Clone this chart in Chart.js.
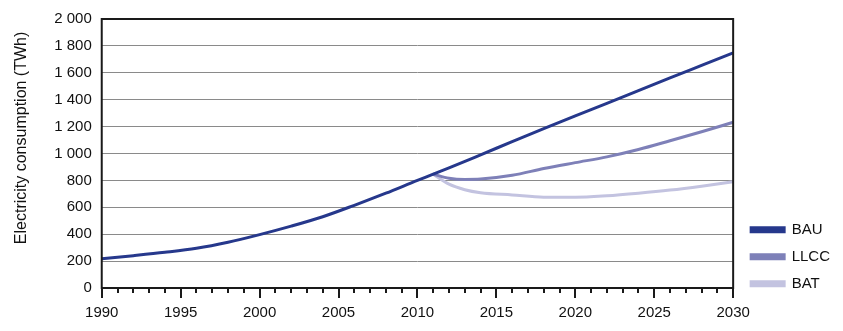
<!DOCTYPE html>
<html>
<head>
<meta charset="utf-8">
<script src="https://cdn.jsdelivr.net/npm/chart.js@4"></script>
<style>
  html, body { margin: 0; padding: 0; background: #fff; }
  #wrap { width: 843px; height: 331px; }
</style>
</head>
<body>
<div id="wrap"><canvas id="elecChart" width="843" height="331"></canvas></div>
<script>
// values (TWh)
const bauYears = [1990, 1992, 1994, 1996, 1998, 2000, 2002, 2004, 2006, 2008, 2010, 2011, 2012, 2014, 2016, 2018, 2020, 2022, 2024, 2026, 2028, 2030];
const bauValues = [217, 240, 265, 295, 340, 397, 460, 530, 615, 705, 800, 846, 893, 990, 1088, 1185, 1280, 1372, 1467, 1562, 1655, 1748];

const scenYears = [2011, 2012, 2013, 2014, 2016, 2018, 2020, 2022, 2024, 2026, 2028, 2030];
const llccValues = [846, 816, 807, 810, 838, 888, 932, 975, 1030, 1095, 1162, 1232];
const batValues = [846, 772, 731, 709, 692, 675, 675, 686, 705, 728, 757, 790];

const yTicks = [0, 200, 400, 600, 800, 1000, 1200, 1400, 1600, 1800, 2000];

const toPoints = (xs, ys) => xs.map((x, i) => ({ x: x, y: ys[i] }));

// box around plot + yearly tick marks under the x axis
const frame = {
    id: 'frame',
    afterLayout(chart) {
        // nudge legend a little right of the plot
        chart.legend.left += 6;
        chart.legend.right += 6;
    },
    afterDraw(chart) {
        const ctx = chart.ctx;
        const a = chart.chartArea;
        const xs = chart.scales.x;
        ctx.save();
        ctx.strokeStyle = '#1a1a1a';
        ctx.lineWidth = 2;
        ctx.strokeRect(a.left, a.top, a.right - a.left, a.bottom - a.top);
        ctx.beginPath();
        for (let yr = 1990; yr <= 2030; yr++) {
            const px = Math.round(xs.getPixelForValue(yr));
            const len = yr % 5 === 0 ? 10 : 5;
            ctx.moveTo(px, a.bottom);
            ctx.lineTo(px, a.bottom + len);
        }
        ctx.stroke();
        ctx.restore();
    }
};

const ctx = document.getElementById('elecChart').getContext('2d');
new Chart(ctx, {
    type: 'line',
    data: {
        datasets: [
            { label: 'BAU', data: toPoints(bauYears, bauValues), borderColor: '#26388c', backgroundColor: '#26388c' },
            { label: 'LLCC', data: toPoints(scenYears, llccValues), borderColor: '#7e80b8', backgroundColor: '#7e80b8' },
            { label: 'BAT', data: toPoints(scenYears, batValues), borderColor: '#c3c3e0', backgroundColor: '#c3c3e0' }
        ]
    },
    options: {
        responsive: false,
        animation: false,
        layout: { padding: { top: 14, right: 9, left: 12, bottom: 0 } },
        elements: {
            point: { radius: 0 },
            line: { borderWidth: 3, tension: 0.4, cubicInterpolationMode: 'monotone' }
        },
        scales: {
            x: {
                type: 'linear',
                min: 1990,
                max: 2030,
                afterFit: axis => { axis.height = 43; },
                grid: { display: false, drawTicks: false },
                border: { display: false },
                ticks: {
                    stepSize: 5,
                    padding: 16,
                    color: '#111',
                    font: { family: 'Liberation Sans', size: 15 },
                    callback: v => String(v),
                    maxRotation: 0
                }
            },
            y: {
                min: 0,
                max: 2000,
                afterBuildTicks: axis => { axis.ticks = yTicks.map(v => ({ value: v })); },
                grid: { color: '#8a8a8a', lineWidth: 1, drawTicks: false },
                border: { display: false },
                ticks: {
                    padding: 10,
                    color: '#111',
                    font: { family: 'Liberation Sans', size: 15 },
                    callback: v => v.toString().replace(/\B(?=(\d{3})+(?!\d))/g, ' ')
                },
                title: {
                    display: true,
                    text: '\u00a0\u00a0\u00a0\u00a0\u00a0\u00a0\u00a0Electricity consumption (TWh)',
                    color: '#111',
                    font: { family: 'Liberation Sans', size: 16 },
                    padding: { top: 0, bottom: 13 }
                }
            }
        },
        plugins: {
            legend: {
                position: 'right',
                align: 'start',
                title: {
                    display: true,
                    text: ' ',
                    font: { size: 1 },
                    padding: { top: 195, bottom: 0 }
                },
                labels: {
                    boxWidth: 33,
                    boxHeight: 4,
                    padding: 12,
                    color: '#111',
                    font: { family: 'Liberation Sans', size: 15 }
                }
            },
            tooltip: { enabled: false }
        }
    },
    plugins: [frame]
});
</script>
</body>
</html>
